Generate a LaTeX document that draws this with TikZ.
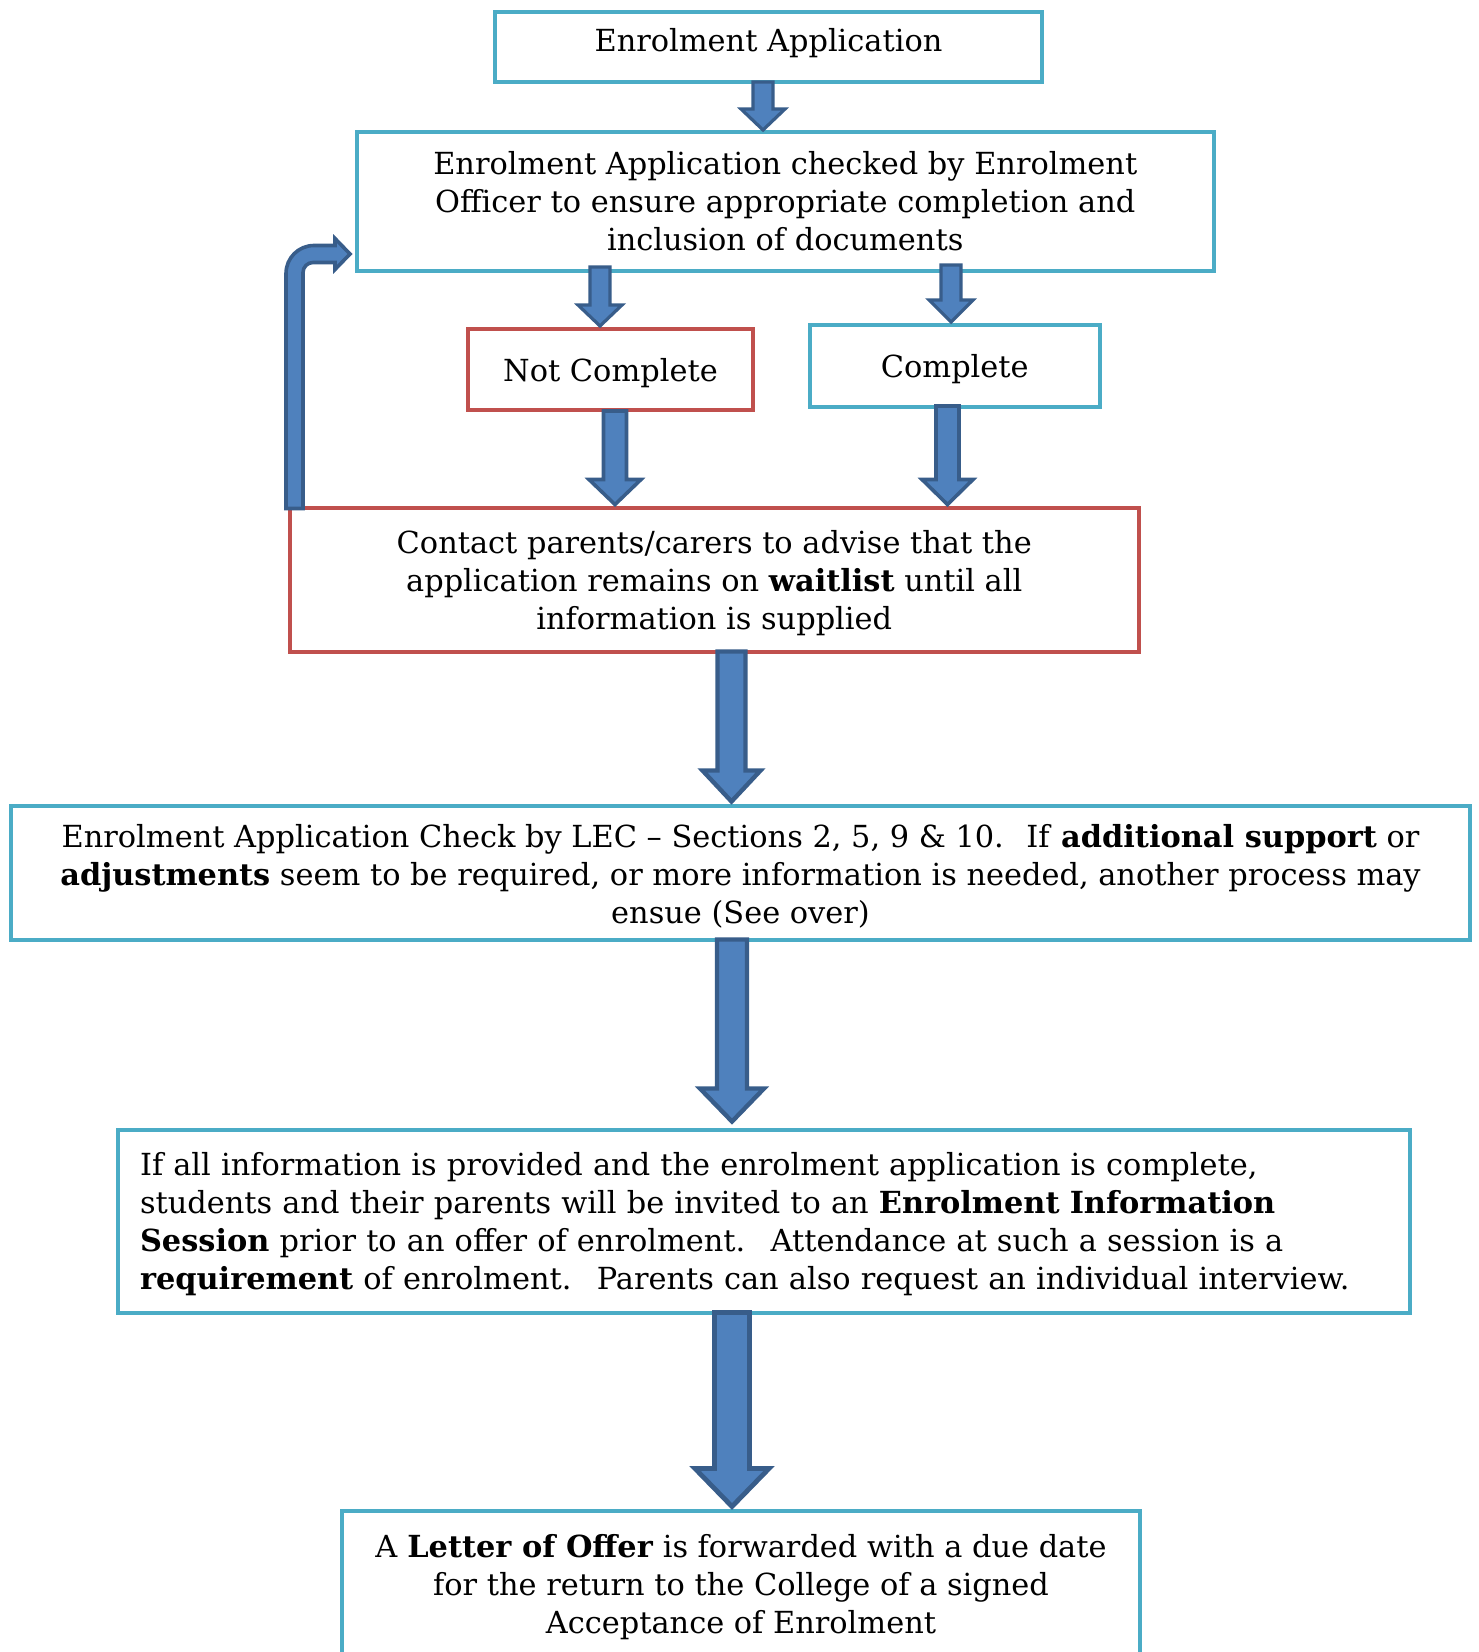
\documentclass[tikz,border=0pt]{standalone}
\usepackage{fontspec}
\setmainfont{DejaVu Serif}
\usetikzlibrary{calc}
\definecolor{boxcyan}{HTML}{4BACC6}
\definecolor{boxred}{HTML}{C0504D}
\definecolor{arrfill}{HTML}{4F81BD}
\definecolor{arrline}{HTML}{385D8A}
\newcommand\toplift{\rule{0pt}{15pt}}
\tikzset{
  flowbox/.style={draw=boxcyan, line width=2pt, fill=white, inner sep=0pt, outer sep=0pt,
    align=center, font=\fontsize{15.2}{19}\selectfont},
  redbox/.style={flowbox, draw=boxred},
  blockarr/.style={fill=arrfill, draw=arrline, line width=1.8pt, line join=miter},
}
% #1 options, #2 start coordinate, #3 end coordinate, #4 shaft half width (px), #5 head half width (px), #6 head length (px)
\newcommand\flowarrow[6][]{%
  \draw[blockarr,#1] let \p1=(#2), \p2=(#3) in
   (\x1-#4*0.5pt,\y1) -- (\x1+#4*0.5pt,\y1) -- (\x1+#4*0.5pt,\y2+#6*0.5pt)
   -- (\x1+#5*0.5pt,\y2+#6*0.5pt) -- (\x1,\y2) -- (\x1-#5*0.5pt,\y2+#6*0.5pt)
   -- (\x1-#4*0.5pt,\y2+#6*0.5pt) -- cycle;}
\begin{document}
\begin{tikzpicture}[x=0.5pt,y=-0.5pt]
\useasboundingbox (0,0) rectangle (1478,1652);
\clip (0,0) rectangle (1478,1652);

\node[flowbox, minimum width=273.5pt, minimum height=34.75pt, text depth=7pt] (b1) at (768.5,47.25) {Enrolment Application};
\node[flowbox, minimum width=428.75pt, minimum height=69.5pt] (b2) at (785.25,201.5)
  {Enrolment Application checked by Enrolment\\Officer to ensure appropriate completion and\\inclusion of documents};
\node[redbox, minimum width=142.5pt, minimum height=40.5pt, text height=15pt] (nc) at (610.5,369.5) {Not Complete};
\node[flowbox, minimum width=145.25pt, minimum height=41pt, text height=15pt] (cp) at (954.75,366) {Complete};
\node[redbox, minimum width=424.75pt, minimum height=72pt] (ct) at (714.25,579.5)
  {\toplift Contact parents/carers to advise that the\\application remains on \textbf{waitlist} until all\\information is supplied};
\node[flowbox, minimum width=729.5pt, minimum height=67pt] (lec) at (740.5,872.5)
  {\toplift Enrolment Application Check by LEC – Sections 2, 5, 9 \& 10.~ If \textbf{additional support} or\\
   \textbf{adjustments} seem to be required, or more information is needed, another process may\\
   ensue (See over)};
\node[flowbox, minimum width=646pt, minimum height=91.5pt, text width=624pt, inner xsep=11pt, align=left] (info) at (764,1221)
  {\toplift If all information is provided and the enrolment application is complete,\\
   students and their parents will be invited to an \textbf{Enrolment Information}\\
   \textbf{Session} prior to an offer of enrolment.~ Attendance at such a session is a\\
   \textbf{requirement} of enrolment.~ Parents can also request an individual interview.};
\node[flowbox, minimum width=399pt, minimum height=95pt] (letter) at (741,1605.5) {};
\node[font=\fontsize{15.2}{19}\selectfont, align=center, inner sep=0pt] (lettertext) at ($(letter.north)+(0,77)$)
  {A \textbf{Letter of Offer} is forwarded with a due date\\for the return to the College of a signed\\Acceptance of Enrolment};

% arrow end points
\coordinate (a1s) at ($(b1.south)+(-5.5,0)$);
\coordinate (a1e) at ($(b2.north)+(0,-2)$);
\coordinate (a2s) at ($(b2.south)+(-185.25,-4)$);
\coordinate (a2e) at ($(nc.north)+(0,-3)$);
\coordinate (a3s) at ($(b2.south)+(165.75,-6)$);
\coordinate (a3e) at ($(cp.north)+(0,-3)$);
\coordinate (a4s) at ($(nc.south)+(4.5,1)$);
\coordinate (a4e) at ($(ct.north)+(0,-3)$);
\coordinate (a5s) at ($(cp.south)+(-7.25,-1)$);
\coordinate (a5e) at ($(ct.north)+(0,-3)$);
\coordinate (a6s) at ($(ct.south)+(17.25,0)$);
\coordinate (a6e) at ($(lec.north)+(0,-4)$);
\coordinate (a7s) at ($(lec.south)+(-8.5,0)$);
\coordinate (a7e) at ($(info.north)+(0,-8)$);
\coordinate (a8s) at ($(info.south)+(-32,0)$);
\coordinate (a8e) at ($(letter.north)+(0,-4)$);

\flowarrow[line width=1.6pt]{a1s}{a1e}{10}{22}{21}
\flowarrow[line width=1.6pt]{a2s}{a2e}{10}{22}{21}
\flowarrow[line width=1.6pt]{a3s}{a3e}{10}{22}{22}
\flowarrow{a4s}{a4e}{11.5}{26}{25}
\flowarrow{a5s}{a5e}{11.5}{25.5}{25}
\flowarrow[line width=2.2pt]{a6s}{a6e}{14}{29}{31}
\flowarrow[line width=2.2pt]{a7s}{a7e}{15}{32}{33}
\flowarrow[line width=2.4pt]{a8s}{a8e}{17.5}{37}{38}

% bent return arrow from contact box back to check box
\coordinate (bs) at ($(ct.north west)+(5,1)$);
\begin{scope}[shift={(bs)}]
\draw[blockarr] (-8.5,0) -- (-8.5,-235) .. controls (-8.5,-250.5) and (4,-263) .. (19.5,-263)
  -- (40.5,-263) -- (40.5,-270) -- (55.5,-254.5) -- (40.5,-239) -- (40.5,-246) -- (18.5,-246)
  .. controls (13,-246) and (8.5,-241.5) .. (8.5,-236) -- (8.5,0) -- cycle;
\end{scope}
\end{tikzpicture}
\end{document}
